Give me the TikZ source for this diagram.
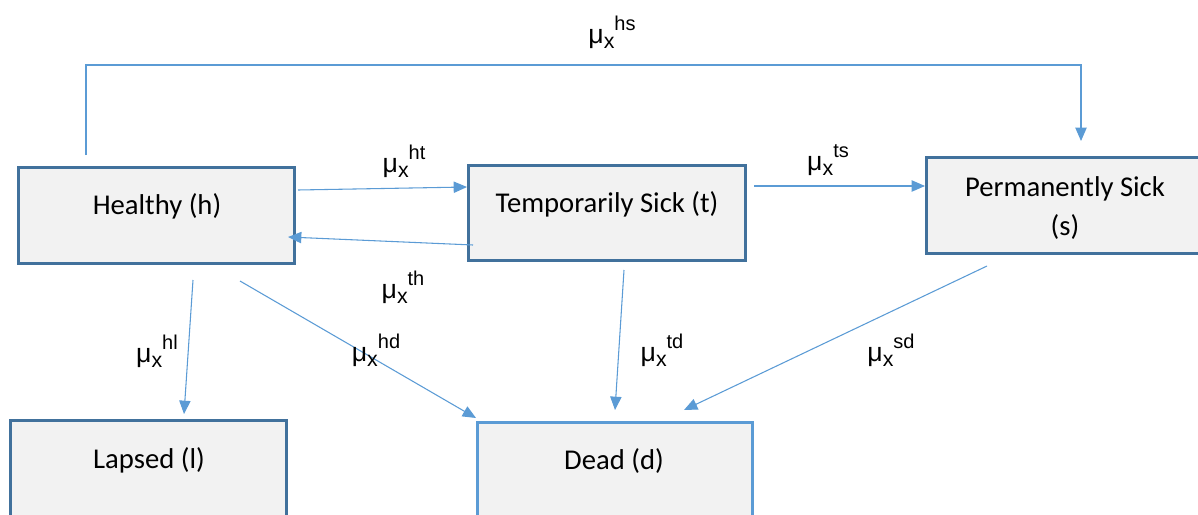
\documentclass[tikz,border=0pt]{standalone}
\usepackage{fontspec}
\setmainfont{Carlito}
\newfontfamily\labfont{Liberation Sans}
\usetikzlibrary{arrows.meta,fit}
\definecolor{arr}{HTML}{5B9BD5}
\definecolor{bdr}{HTML}{41719C}
\definecolor{fillg}{HTML}{F2F2F2}
\newcommand\rt[1]{μ\raisebox{-3.5pt}{\fontsize{16}{17}\selectfont x}\raisebox{10pt}{\fontsize{15}{16}\selectfont #1}}
\begin{document}
\begin{tikzpicture}[x=0.75pt,y=-0.75pt,
  box/.style={draw=bdr, line width=2.5pt, fill=fillg, inner sep=0pt},
  deadbox/.style={box, draw=arr},
  txt/.style={font=\fontsize{21.5}{29}\selectfont, inner sep=0pt, align=center},
  rate/.style={font=\labfont\fontsize{20}{23}\selectfont, inner sep=0pt},
  conn/.style={draw=arr, line width=0.8pt, -{Triangle[length=10pt,width=8.5pt]}}]
\useasboundingbox (0,0) rectangle (1198,514);
\clip (0,0) rectangle (1198,514);

% boxes
\node[box, fit={(18.5,167.5)(294.5,263.5)}] (h) {};
\node[box, fit={(468.5,165.5)(745.5,260.5)}] (t) {};
\node[box, fit={(926.5,157.5)(1210,253.5)}] (s) {};
\node[box, fit={(10.5,420.5)(286.5,530)}] (l) {};
\node[deadbox, fit={(477.5,422.5)(752.5,530)}] (d) {};

% box texts
\node[txt, anchor=base] (ht) at (157,214) {Healthy (h)};
\node[txt, anchor=base] (tt) at (607,212) {Temporarily Sick (t)};
\node[txt] (st) at (1065,208) {Permanently Sick\\(s)};
\node[txt, anchor=base] (lt) at (149,468) {Lapsed (l)};
\node[txt, anchor=base] (dt) at (614,469) {Dead (d)};

% connector endpoints
\coordinate (hsA) at (86,155);
\coordinate (hsB) at (1081,141);
\coordinate (htA) at (298,190);
\coordinate (htB) at (467,187);
\coordinate (thA) at (473,245);
\coordinate (thB) at (288,237);
\coordinate (tsA) at (754,186);
\coordinate (tsB) at (925,186);
\coordinate (hlA) at (193,280);
\coordinate (hlB) at (184,414);
\coordinate (hdA) at (240,281);
\coordinate (hdB) at (476,418);
\coordinate (tdA) at (624,270);
\coordinate (tdB) at (615,410);
\coordinate (sdA) at (987,266);
\coordinate (sdB) at (684,410);

% connectors
\draw[conn] (hsA) -- (86,65) -- (1081,65) -- (hsB);
\draw[conn] (htA) -- (htB);
\draw[conn] (thA) -- (thB);
\draw[conn] (tsA) -- (tsB);
\draw[conn] (hlA) -- (hlB);
\draw[conn] (hdA) -- (hdB);
\draw[conn] (tdA) -- (tdB);
\draw[conn] (sdA) -- (sdB);

% rate labels
\node[rate] (lhs) at (612,32) {\rt{hs}};
\node[rate] (lht) at (404,161) {\rt{ht}};
\node[rate] (lts) at (828,160) {\rt{ts}};
\node[rate] (lth) at (403,287) {\rt{th}};
\node[rate] (lhl) at (157,351) {\rt{hl}};
\node[rate] (lhd) at (376,350) {\rt{hd}};
\node[rate] (ltd) at (662,350) {\rt{td}};
\node[rate] (lsd) at (891,350) {\rt{sd}};
\end{tikzpicture}
\end{document}
